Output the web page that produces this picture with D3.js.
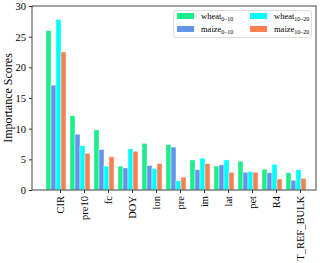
<!DOCTYPE html>
<html>
<head>
<meta charset="utf-8">
<script src="https://cdn.jsdelivr.net/npm/d3@7"></script>
<style>
  body { margin: 0; background: #fff; }
  text { font-family: "Liberation Serif", "Times New Roman", serif; }
</style>
</head>
<body>
<svg id="chart" width="320" height="263"></svg>
<script>
var categories = ['CIR', 'pre10', 'fc', 'DOY', 'lon', 'pre', 'im', 'lat', 'pet', 'R4', 'T_REF_BULK'];
var wheat010  = [26.0, 12.1, 9.8, 3.9, 7.6, 7.4, 4.9, 3.9, 4.7, 3.4, 2.8];
var maize010  = [17.1, 9.1, 6.6, 3.6, 4.0, 7.0, 3.3, 4.1, 2.9, 2.8, 1.6];
var wheat1020 = [27.8, 7.2, 3.9, 6.7, 3.5, 1.5, 5.2, 4.9, 3.0, 4.2, 3.3];
var maize1020 = [22.5, 6.0, 5.4, 6.3, 4.3, 2.1, 4.3, 2.9, 2.9, 1.8, 1.9];
var yTicks = [0, 5, 10, 15, 20, 25, 30];

var series = [
  {name: 'wheat', sub: '0\u201310', values: wheat010, color: '#1aef8c'},
  {name: 'maize', sub: '0\u201310', values: maize010, color: '#6495ed'},
  {name: 'wheat', sub: '10\u201320', values: wheat1020, color: '#00ffff'},
  {name: 'maize', sub: '10\u201320', values: maize1020, color: '#ff7f50'}
];

var svg = d3.select('#chart');
var mLeft = 32, mRight = 316, mTop = 6, mBottom = 190;

var y = d3.scaleLinear().domain([0, 30]).range([mBottom, mTop]);
// group positions: index -> left edge of group
var x = d3.scaleLinear().domain([0, 10]).range([46, 286]);
var bw = 5;

var groups = svg.append('g')
    .selectAll('g')
    .data(series)
    .enter().append('g')
    .attr('fill', function(d){return d.color;})
    ;

groups.selectAll('rect')
    .data(function(d, si){return d.values.map(function(v){return {v: v, si: si};});})
    .enter().append('rect')
    .attr('x', function(d, i){return x(i) + d.si * bw;})
    .attr('y', function(d){return y(d.v);})
    .attr('width', bw)
    .attr('height', function(d){return mBottom - y(d.v);})
    .attr('stroke', '#fff')
    .attr('stroke-width', 0.4)
    ;

// axes
var yAxis = d3.axisLeft(y).tickValues(yTicks).tickSize(3).tickPadding(3);
var gy = svg.append('g')
    .attr('transform', 'translate(' + mLeft + ',0)')
    .call(yAxis);
gy.select('.domain').remove();
gy.selectAll('text').attr('font-size', 10.5).attr('fill', '#000')
    .attr('font-family', '"Liberation Serif", serif');
gy.selectAll('line').attr('stroke', '#333');

var xt = d3.scaleOrdinal().domain(categories)
    .range(categories.map(function(c, i){return x(i) + 14;}));
var xAxis = d3.axisBottom(xt).tickSize(3).tickPadding(3);
var gx = svg.append('g')
    .attr('transform', 'translate(0,' + mBottom + ')')
    .call(xAxis);
gx.select('.domain').remove();
gx.selectAll('line').attr('stroke', '#333');
gx.selectAll('text')
    .attr('font-size', 10.5)
    .attr('fill', '#000')
    .attr('font-family', '"Liberation Serif", serif')
    .attr('transform', 'rotate(-90)')
    .attr('text-anchor', 'end')
    .attr('x', -6)
    .attr('y', 0)
    .attr('dy', '0.35em')
    ;

svg.append('rect')
    .attr('x', mLeft).attr('y', mTop)
    .attr('width', mRight - mLeft).attr('height', mBottom - mTop)
    .attr('fill', 'none')
    .attr('stroke', '#444')
    .attr('stroke-width', 1)
    ;

svg.append('text')
    .attr('transform', 'translate(12,' + ((mTop + mBottom) / 2) + ') rotate(-90)')
    .attr('text-anchor', 'middle')
    .attr('font-size', 12)
    .text('Importance Scores');

// legend
var legend = svg.append('g');
legend.append('rect')
    .attr('x', 173.5).attr('y', 10.5)
    .attr('width', 138).attr('height', 27)
    .attr('rx', 2)
    .attr('fill', '#fff')
    .attr('stroke', '#ddd')
    ;
var item = legend.selectAll('g.item')
    .data(series)
    .enter().append('g')
    .attr('class', 'item')
    .attr('transform', function(d, i){
      var col = i >= 2 ? 1 : 0, row = i % 2;
      return 'translate(' + (177 + col * 73) + ',' + (13 + row * 13) + ')';
    });
item.append('rect')
    .attr('width', 17).attr('height', 6)
    .attr('fill', function(d){return d.color;});
var lt = item.append('text')
    .attr('x', 24).attr('y', 6)
    .attr('font-size', 8.5);
lt.append('tspan').text(function(d){return d.name;});
lt.append('tspan').attr('font-size', 6).attr('dy', 2).text(function(d){return d.sub;});
</script>
</body>
</html>
